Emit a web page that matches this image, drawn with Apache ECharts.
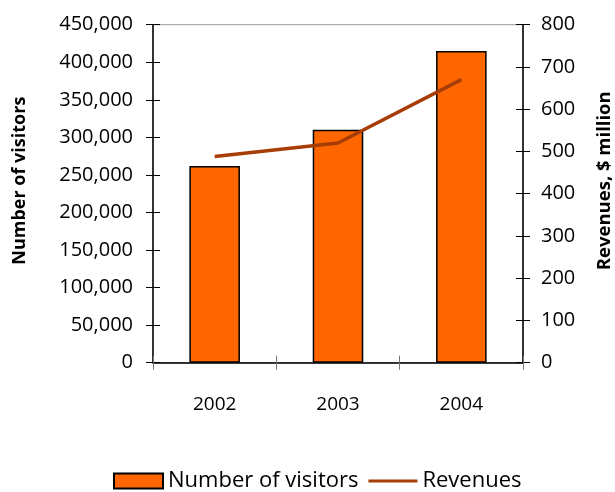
<!DOCTYPE html>
<html><head><meta charset="utf-8">
<script src="https://cdn.jsdelivr.net/npm/echarts@6/dist/echarts.min.js"></script>
<style>html,body{margin:0;padding:0;background:#fff}#c{width:615px;height:492px}</style>
</head><body><div id="c"></div>
<script>
const years = ['2002', '2003', '2004'];
const visitors = [262000, 310000, 415000];
const revenues = [488, 520, 670];
const FONT = 'Open Sans';
const chart = echarts.init(document.getElementById('c'));
const tickCommon = {show: true, length: 7, lineStyle: {color: '#000', width: 1}};
chart.setOption({
  animation: false,
  textStyle: {fontFamily: FONT},
  grid: {left: 153, right: 92, top: 24.7, bottom: 129.3, containLabel: false, outerBoundsMode: 'none',
    show: true, borderColor: '#999', borderWidth: 1},
  legend: {
    bottom: -5, left: 108, itemWidth: 49, itemHeight: 15, itemGap: 10,
    textStyle: {fontFamily: FONT, fontSize: 22, color: '#000'},
    data: [
      {name: 'Number of visitors', icon: 'rect'},
      {name: 'Revenues', icon: 'path://M0,0 L0.01,0 Z M0,15 L0.01,15 Z M0,6 L49,6 L49,9 L0,9 Z'}
    ]
  },
  xAxis: [{
    type: 'category', data: years, boundaryGap: true,
    axisLine: {lineStyle: {color: '#000', width: 1.5}},
    axisTick: {show: true, length: 7, lineStyle: {color: '#777'}},
    axisLabel: {fontSize: 19, color: '#000', margin: 32}
  }, {
    type: 'category', data: years, position: 'bottom', boundaryGap: true,
    axisLine: {show: false},
    axisTick: {show: true, inside: true, length: 7, lineStyle: {color: '#777'}},
    axisLabel: {show: false}
  }],
  yAxis: [{
    type: 'value', min: 0, max: 450000, interval: 50000, position: 'left',
    name: 'Number of visitors', nameLocation: 'middle', nameRotate: 90, nameGap: 124,
    nameTextStyle: {fontSize: 18, fontWeight: 'bold', color: '#000', padding: [0, 0, 0, 26]},
    axisLine: {show: true, lineStyle: {color: '#000', width: 1.5}},
    axisTick: tickCommon,
    splitLine: {show: false},
    axisLabel: {fontSize: 20, color: '#000', margin: 20,
      formatter: v => v.toString().replace(/\B(?=(\d{3})+(?!\d))/g, ',')}
  }, {
    type: 'value', min: 0, max: 800, interval: 100, position: 'right',
    name: 'Revenues, $ million', nameLocation: 'middle', nameRotate: 90, nameGap: 72,
    nameTextStyle: {fontSize: 18.5, fontWeight: 'bold', color: '#000', padding: [0, 0, 0, 26]},
    axisLine: {show: true, lineStyle: {color: '#000', width: 1.5}},
    axisTick: tickCommon,
    splitLine: {show: false},
    axisLabel: {fontSize: 20, color: '#000', margin: 18}
  }, {
    type: 'value', min: 0, max: 450000, interval: 50000, position: 'left', offset: 0,
    axisLine: {show: false}, axisTick: Object.assign({}, tickCommon, {inside: true}),
    axisLabel: {show: false}, splitLine: {show: false}
  }, {
    type: 'value', min: 0, max: 800, interval: 100, position: 'right', offset: 0,
    axisLine: {show: false}, axisTick: Object.assign({}, tickCommon, {inside: true}),
    axisLabel: {show: false}, splitLine: {show: false}
  }],
  series: [{
    name: 'Number of visitors', type: 'bar', data: visitors, yAxisIndex: 0, xAxisIndex: 0,
    barWidth: '41%',
    itemStyle: {color: '#FF6600', borderColor: '#000', borderWidth: 1.5}
  }, {
    name: 'Revenues', type: 'line', data: revenues, yAxisIndex: 1, xAxisIndex: 0,
    symbol: 'none', lineStyle: {color: '#A63C06', width: 3.5}, itemStyle: {color: '#A63C06'}
  }]
});
</script></body></html>
